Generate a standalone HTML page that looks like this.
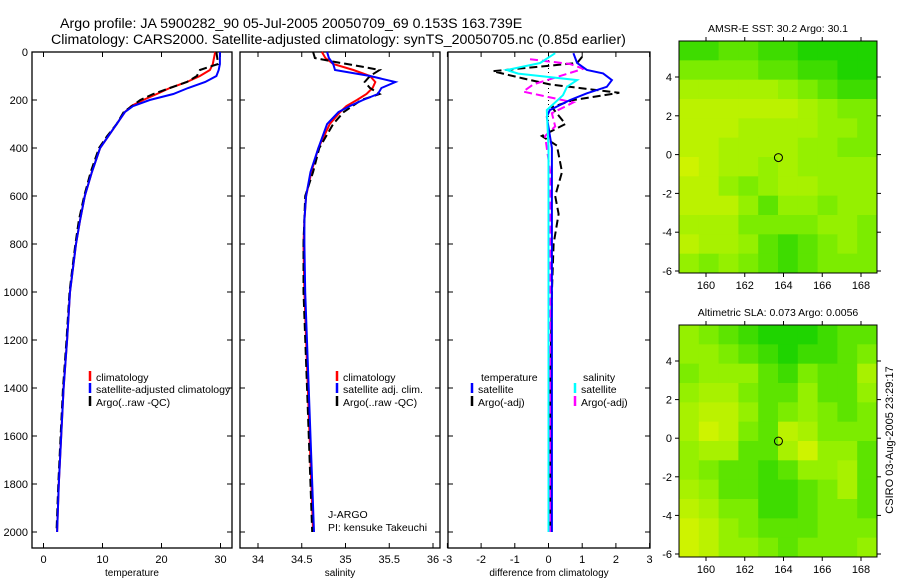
<!DOCTYPE html>
<html><head><meta charset="utf-8"><style>
html,body{margin:0;padding:0;background:#fff;}
svg{display:block;font-family:"Liberation Sans",sans-serif;}
</style></head><body>
<svg id="s" width="900" height="580" viewBox="0 0 900 580">
<text x="60" y="28" font-size="14.2">Argo profile: JA 5900282_90 05-Jul-2005 20050709_69 0.153S 163.739E</text>
<text x="51" y="44" font-size="14.2">Climatology: CARS2000. Satellite-adjusted climatology: synTS_20050705.nc (0.85d earlier)</text>
<text transform="translate(893,440) rotate(-90)" text-anchor="middle" font-size="11">CSIRO 03-Aug-2005 23:29:17</text>
</svg>
<script>
// ---- data ----
const tempP=[0,50,75,100,125,150,175,200,225,250,300,350,400,500,600,700,800,900,1000,1200,1400,1600,1800,2000];
const tempClim=[29.1,28.7,28.2,26.5,24.3,21.4,19.2,16.9,14.9,13.8,12.4,11,9.6,8.2,7,6.2,5.5,5,4.5,4,3.4,3,2.6,2.3];
const tempSat=[29.9,29.9,29.7,29.3,27.4,24.5,22,18,15.2,13.8,12.4,11,9.6,8.2,7,6.2,5.5,5,4.5,4,3.4,3,2.6,2.3];
const tempArgoP=[0,50,75,100,125,150,175,200,250,300,350,400,500,600,700,800,900,1000,1200,1400,1600,1800,2000];
const tempArgo=[29.3,29.6,26.5,26,24.3,21.4,18.6,16.4,13.6,12.4,10.8,9.4,8,6.9,6,5.4,4.9,4.4,3.9,3.3,2.9,2.5,2.2];
const salP=[0,25,50,75,100,125,150,175,200,225,250,300,400,500,600,700,800,1000,1500,2000];
const salClim=[34.73,34.77,34.86,35.09,35.28,35.34,35.31,35.24,35.13,35.01,34.94,34.82,34.69,34.61,34.55,34.53,34.52,34.53,34.58,34.63];
const salSat=[34.79,34.81,34.86,34.88,35.28,35.57,35.41,35.37,35.2,35.05,34.92,34.79,34.69,34.6,34.55,34.53,34.53,34.54,34.59,34.64];
const salArgoP=[0,25,40,60,75,100,125,150,175,200,250,300,400,500,600,800,1000,1500,2000];
const salArgo=[34.63,34.65,34.86,35.17,35.39,35.28,35.22,35.28,35.39,35.18,34.98,34.86,34.7,34.63,34.54,34.52,34.52,34.57,34.62];
const dTP=[5,46,75,89,117,145,172,200,242,270,400,1000,2000];
const dTSat=[0.74,0.85,1.14,1.62,1.88,1.73,1.14,0.64,0.04,-0.05,0.1,0.1,0.1];
const dSP=[5,46,75,90,117,145,180,242,400,1000,2000];
const dSSat=[0.2,-0.25,-1.24,-0.9,0.85,0.55,0.43,-0.05,0,0,0];
const dTArgoP=[20,46,80,110,135,170,200,230,300,350,390,500,600,675,800,1000,1400,2000];
const dTArgo=[1.0,0.85,-1.65,-0.76,0.04,2.1,0.74,0.1,0.5,-0.2,0.25,0.4,0.2,0.3,0.15,0.1,0.05,0.05];
const dSArgoP=[30,50,70,135,165,210,255,310,350,500,1000,2000];
const dSArgo=[-0.55,0.64,1.03,-0.45,-0.75,0.74,0.1,0.2,-0.1,0.05,0.05,0.05];
const depthTicks=[0,200,400,600,800,1000,1200,1400,1600,1800,2000];
const tempTicks=[0,10,20,30];
const salTicks=[34,34.5,35,35.5,36];
const diffTicks=[-3,-2,-1,0,1,2,3];
const lonTicks=[160,162,164,166,168];
const latTicks=[-6,-4,-2,0,2,4];
const sstGrid=[
[2,2,3,3,2,2,1,1,1,1],[4,4,4,4,3,3,2,2,1,1],[6,6,6,6,6,5,4,3,2,2],[7,7,7,7,7,7,6,5,4,4],
[7,7,7,6,6,6,6,5,5,4],[7,7,6,6,6,6,5,5,4,4],[8,7,6,6,5,6,5,5,5,5],[7,7,5,4,5,6,6,5,5,5],
[7,7,7,5,3,5,5,4,5,5],[6,6,6,4,4,4,4,5,5,4],[7,6,6,5,3,2,3,4,5,4],[5,4,5,4,3,2,3,4,4,4]];
const slaGrid=[
[5,4,3,2,1,1,1,2,3,3],[5,5,4,3,2,1,2,2,3,4],[4,5,5,5,3,2,4,3,3,6],[5,6,6,4,3,3,5,3,3,5],
[6,7,7,5,3,4,5,4,3,4],[6,8,7,4,3,7,6,4,4,4],[5,6,6,3,3,6,8,5,5,3],[5,4,3,3,2,3,5,5,6,3],
[6,5,3,3,2,2,3,4,6,3],[7,6,4,4,2,2,3,4,4,3],[8,7,5,4,3,3,3,4,4,4],[8,7,5,5,4,3,4,4,4,5]];
const argoLon=163.739, argoLat=-0.153;

const NS='http://www.w3.org/2000/svg';
const svg=document.getElementById('s');
function mk(tag,attrs,parent){const e=document.createElementNS(NS,tag);for(const k in attrs)e.setAttribute(k,attrs[k]);(parent||svg).appendChild(e);return e;}
const Y=p=>52+0.24*p;
const topY=52,botY=548;
function panel(x0,x1,name,ticks,X,xlabel,leftLabels){
  const g=mk('g',{});
  
  
  mk('rect',{x:x0,y:topY,width:x1-x0,height:botY-topY,fill:'none',stroke:'#000','stroke-width':1.3},g);
  ticks.forEach(t=>{const x=X(t);
    mk('line',{x1:x,x2:x,y1:botY,y2:botY-5,stroke:'#000'},g);
    mk('line',{x1:x,x2:x,y1:topY,y2:topY+5,stroke:'#000'},g);
    const tx=mk('text',{x:x,y:botY+15,'font-size':11,'text-anchor':'middle'},g);tx.textContent=t;
    
    
  });
  depthTicks.forEach(p=>{const y=Y(p);
    mk('line',{x1:x0,x2:x0+5,y1:y,y2:y,stroke:'#000'},g);
    mk('line',{x1:x1,x2:x1-5,y1:y,y2:y,stroke:'#000'},g);
    if(leftLabels){const tx=mk('text',{x:x0-4,y:y+4,'font-size':11,'text-anchor':'end'},g);tx.textContent=p;
      
      }
  });
  const xl=mk('text',{x:(x0+x1)/2,y:botY+28,'font-size':10,'text-anchor':'middle'},g);xl.textContent=xlabel;
  
  
  return g;
}
function line(ps,vs,X,color,w,dash,name){
  const d=ps.map((p,i)=>(i?'L':'M')+X(vs[i]).toFixed(1)+','+Y(p).toFixed(1)).join('');
  const e=mk('path',{d:d,fill:'none',stroke:color,'stroke-width':w,'stroke-dasharray':dash||'none'});
  
  
}
function legend(x,y,color,label,name){
  if(color)mk('line',{x1:x,x2:x,y1:y-10,y2:y,stroke:color,'stroke-width':2.5});
  const t=mk('text',{x:x+6,y:y,'font-size':10.5});t.textContent=label;
  
  
}
// Temperature
const XT=t=>43.5+5.9*t;
panel(32,232,'temperature-panel',tempTicks,XT,'temperature',true);
line(tempP,tempClim,XT,'#f00',2,null,'temp-climatology-line');
line(tempArgoP,tempArgo,XT,'#000',2,'8,4','temp-argo-line');
line(tempP,tempSat,XT,'#00f',2,null,'temp-satellite-line');
legend(90,381,'#f00','climatology','legend-climatology');
legend(90,393,'#00f','satellite-adjusted climatology','legend-satellite');
legend(90,406,'#000','Argo(..raw -QC)','legend-argo');
// Salinity
const XS=s=>258+87.5*(s-34);
panel(240,440,'salinity-panel',salTicks,XS,'salinity',false);
line(salP,salClim,XS,'#f00',2,null,'sal-climatology-line');
line(salArgoP,salArgo,XS,'#000',2,'8,4','sal-argo-line');
line(salP,salSat,XS,'#00f',2,null,'sal-satellite-line');
legend(337,381,'#f00','climatology','legend-climatology-2');
legend(337,393,'#00f','satellite adj. clim.','legend-satellite-2');
legend(337,406,'#000','Argo(..raw -QC)','legend-argo-2');
legend(322,518,null,'J-ARGO','float-program');
legend(322,531,null,'PI: kensuke Takeuchi','float-pi');
// Difference
const XD=d=>548.5+33.7*d;
panel(448,650,'difference-panel',diffTicks,XD,'difference from climatology',false);
mk('line',{x1:XD(0),x2:XD(0),y1:topY,y2:Y(300),stroke:'#000','stroke-dasharray':'1,3'});
line(dTArgoP,dTArgo,XD,'#000',2,'8,4','diff-temp-argo-line');
line(dSArgoP,dSArgo,XD,'#f0f',2,'8,4','diff-sal-argo-line');
line(dTP,dTSat,XD,'#00f',2,null,'diff-temp-satellite-line');
line(dSP,dSSat,XD,'#0ff',2,null,'diff-sal-satellite-line');
legend(475,381,null,'temperature','legend-temperature-head');
legend(472,393,'#00f','satellite','legend-temp-satellite');
legend(472,406,'#000','Argo(-adj)','legend-temp-argo');
legend(577,381,null,'salinity','legend-salinity-head');
legend(575,393,'#0ff','satellite','legend-sal-satellite');
legend(575,406,'#f0f','Argo(-adj)','legend-sal-argo');
// Maps
function col(v){const t=v/9;let r,g,b;
  if(t<0.5){const u=t/0.5;r=0+140*u;g=205+35*u;b=0;}else{const u=(t-0.5)/0.5;r=140+85*u;g=240+5*u;b=0;}
  return `rgb(${r|0},${g|0},${b|0})`;}
function map(y0,y1,lat4y,latm6y,grid,title,name){
  const x0=679,x1=877;
  const LX=l=>706+(l-160)*(861-706)/8;
  const LY=l=>lat4y+(4-l)*(latm6y-lat4y)/10;
  const g=mk('g',{});
  
  
  const rows=grid.length,cols=grid[0].length,cw=(x1-x0)/cols,ch=(y1-y0)/rows;
  grid.forEach((r,i)=>r.forEach((v,j)=>{
    const c=mk('rect',{x:x0+j*cw,y:y0+i*ch,width:cw+0.5,height:ch+0.5,fill:col(v)},g);
    
    
  }));
  mk('rect',{x:x0,y:y0,width:x1-x0,height:y1-y0,fill:'none',stroke:'#000'},g);
  lonTicks.forEach(l=>{const x=LX(l);
    mk('line',{x1:x,x2:x,y1:y1,y2:y1+4,stroke:'#000'},g);
    mk('line',{x1:x,x2:x,y1:y0,y2:y0-4,stroke:'#000'},g);
    const t=mk('text',{x:x,y:y1+16,'font-size':11,'text-anchor':'middle'},g);t.textContent=l;
    
    });
  latTicks.forEach(l=>{const y=LY(l);
    mk('line',{x1:x0,x2:x0-4,y1:y,y2:y,stroke:'#000'},g);
    mk('line',{x1:x1,x2:x1+4,y1:y,y2:y,stroke:'#000'},g);
    const t=mk('text',{x:x0-7,y:y+4,'font-size':11,'text-anchor':'end'},g);t.textContent=l;
    
    });
  const c=mk('circle',{cx:LX(argoLon),cy:LY(argoLat),r:4,fill:'none',stroke:'#000'},g);
  
  
  const t=mk('text',{x:(x0+x1)/2,y:y0-9,'font-size':10.5,'text-anchor':'middle'},g);t.textContent=title;
  
  
}
map(41,273,77,271,sstGrid,'AMSR-E SST: 30.2 Argo: 30.1','sst-map');
map(325,557,361,554,slaGrid,'Altimetric SLA: 0.073 Argo: 0.0056','sla-map');
</script>
</body></html>
